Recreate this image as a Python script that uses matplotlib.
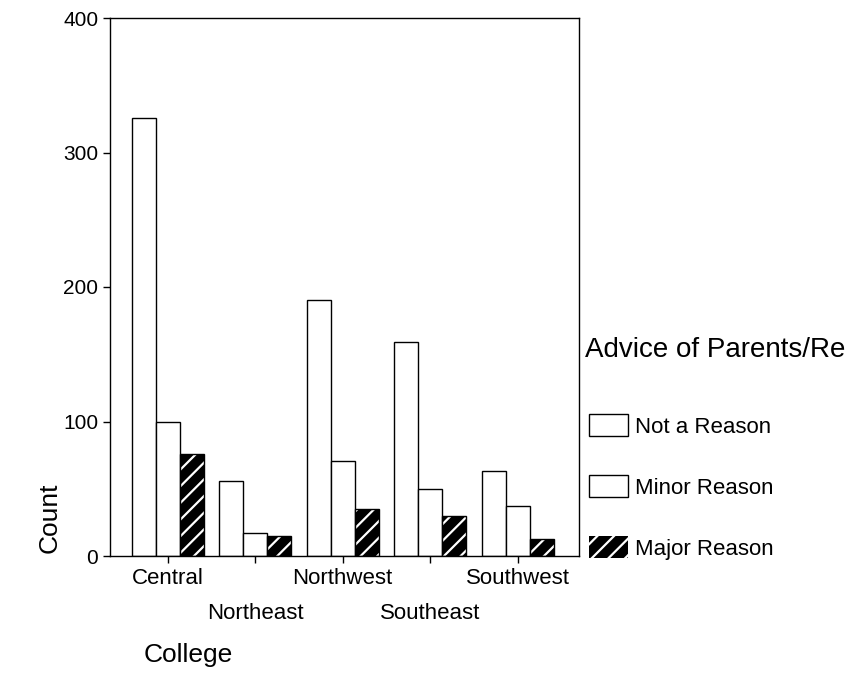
import matplotlib
matplotlib.use("Agg")
import matplotlib.pyplot as plt
import numpy as np
from matplotlib.patches import Patch

plt.rcParams['font.family'] = ['Liberation Sans', 'DejaVu Sans']
plt.rcParams['hatch.linewidth'] = 1.6

colleges = ["Central", "Northeast", "Northwest", "Southeast", "Southwest"]
series_names = ["Not a Reason", "Minor Reason", "Major Reason"]
not_reason = [326, 56, 190, 159, 63]
minor_reason = [100, 17, 71, 50, 37]
major_reason = [76, 15, 35, 30, 13]
yticks = [0, 100, 200, 300, 400]

fig = plt.figure(figsize=(8.53, 6.98), dpi=100)
L, R, T, B = 110/853, 579/853, 1-18/698, 1-556/698
ax = fig.add_axes([L, B, R-L, T-B])

x = np.arange(len(colleges))
w = 0.274
ax.bar(x - w, not_reason, w, facecolor='white', edgecolor='black', linewidth=1)
ax.bar(x, minor_reason, w, facecolor='white', edgecolor='black', linewidth=1)
ax.bar(x + w, major_reason, w, facecolor='black', edgecolor='white', hatch='//', linewidth=0)
ax.bar(x + w, major_reason, w, facecolor='none', edgecolor='black', linewidth=1)

ax.set_xlim(-0.66, 4.7)
ax.set_ylim(0, 400)
ax.set_yticks(yticks)
ax.set_yticklabels([str(v) for v in yticks], fontsize=15)
ax.set_xticks(x)
ax.set_xticklabels(colleges, fontsize=16)
ax.tick_params(axis='both', direction='out', length=5, width=1)
for i, t in enumerate(ax.xaxis.get_major_ticks()):
    if i % 2 == 1:
        t.set_pad(3.5 + 25)
for s in ax.spines.values():
    s.set_linewidth(1)

fig.text(50/853, 1-518/698, "Count", rotation=90, ha='center', va='center', fontsize=19)
fig.text(188/853, 1-655/698, "College", ha='center', va='center', fontsize=19)
fig.text(585/853, 1-350/698, "Advice of Parents/Re", ha='left', va='center', fontsize=20)

handles = [Patch(facecolor='white', edgecolor='black', linewidth=1),
           Patch(facecolor='white', edgecolor='black', linewidth=1),
           Patch(facecolor='black', edgecolor='white', hatch='//', linewidth=0)]
leg = fig.legend(handles, series_names, loc='upper left',
                 bbox_to_anchor=(589/853, 1-414/698), frameon=False,
                 fontsize=16, handlelength=1.75, handleheight=1.15,
                 handletextpad=0.3, labelspacing=1.69, borderaxespad=0, borderpad=0)

fig.savefig("out.png", dpi=100)
